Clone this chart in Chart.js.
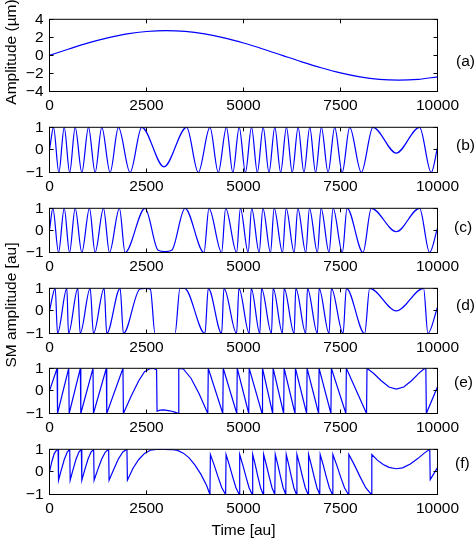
<!DOCTYPE html>
<html>
<head>
<meta charset="utf-8">
<script src="https://cdn.jsdelivr.net/npm/chart.js@4.4.1/dist/chart.umd.min.js"></script>
<style>
  body { margin: 0; background: #fff; }
  #wrap { position: relative; width: 476px; height: 540px; background: #fff; overflow: hidden;
          font-family: "Liberation Sans", Arial, sans-serif; font-size: 15.5px; color: #000; }
  #wrap canvas { position: absolute; left: 0; }
  .lbl { position: absolute; white-space: nowrap; transform: translate(0, -50%); }
  .vert { position: absolute; white-space: nowrap; transform: translate(-50%, -50%) rotate(-90deg); }
  .hor { position: absolute; white-space: nowrap; transform: translate(-50%, -50%); }
</style>
</head>
<body>
<div id="wrap">
  <canvas id="pa"></canvas>
  <canvas id="pb"></canvas>
  <canvas id="pc"></canvas>
  <canvas id="pd"></canvas>
  <canvas id="pe"></canvas>
  <canvas id="pf"></canvas>
  <div class="vert" style="left:11px; top:52px;">Amplitude (µm)</div>
  <div class="vert" style="left:11px; top:305px;">SM amplitude [au]</div>
  <div class="hor" style="left:243.5px; top:530px;">Time [au]</div>
  <div class="lbl" style="left:456px; top:61px;">(a)</div>
  <div class="lbl" style="left:456px; top:145px;">(b)</div>
  <div class="lbl" style="left:454px; top:227px;">(c)</div>
  <div class="lbl" style="left:456px; top:305px;">(d)</div>
  <div class="lbl" style="left:454px; top:382px;">(e)</div>
  <div class="lbl" style="left:455px; top:463px;">(f)</div>
</div>
<script>
// data (time in samples, amplitude)

const xTicks = [0, 2500, 5000, 7500, 10000];
const ampTicks = [-4, -2, 0, 2, 4];
const smTicks = [-1, 0, 1];

// (a) displacement
const aT = [0, 500, 1000, 1500, 2000, 2500, 3000, 3500, 4000, 4500, 5000, 5500, 6000, 6500, 7000, 7500, 8000, 8500, 9000, 9500, 10000];
const aY = [0, 0.71, 1.38, 1.94, 2.38, 2.65, 2.75, 2.66, 2.38, 1.94, 1.37, 0.71, 0.0, -0.71, -1.37, -1.94, -2.38, -2.66, -2.75, -2.66, -2.37];

// (b)
const bT = [0, 104, 241, 379, 520, 662, 833, 1005, 1176, 1348, 1562, 1777, 2077, 2377, 2950, 3535, 3835, 4135, 4350, 4560,
            4725, 4890, 5050, 5207, 5357, 5507, 5657, 5807, 5957, 6107, 6257, 6408, 6558, 6708, 6858, 7008, 7180, 7351, 7544, 7737,
            8037, 8337, 8937, 9538, 9838, 10000];
const bY = [0, 1, -1, 1, -1, 1, -1, 1, -1, 1, -1, 1, -1, 1,
            -0.75,
            1, -1, 1, -1, 1, -1, 1, -1, 1, -1, 1, -1, 1, -1, 1, -1, 1, -1, 1, -1, 1, -1, 1, -1, 1, -1, 1,
            -0.14, 1, -1, 0.1];

// (c)
const cT = [0, 87, 233, 379, 516, 662, 833, 1030, 1176, 1391, 1545, 1802, 1948, 2463, 2800, 2978, 3150, 3492, 3981, 4110,
            4436, 4540, 4822, 4920, 5120, 5210, 5404, 5500, 5696, 5790, 6005, 6100, 6305, 6400, 6605, 6700, 6905, 7000, 7205, 7310,
            7548, 7670, 8080, 8295, 8938, 9538, 9796, 10000];
const cY = [0, 1, -1, 1, -1, 1, -1, 1, -1, 1, -1, 1, -1, 1,
            -0.9, -0.96, -0.9,
            1, -1, 1, -1, 1, -1, 1, -1, 1, -1, 1, -1, 1, -1, 1, -1, 1, -1, 1, -1, 1, -1, 1, -1, 1, -1, 1,
            -0.06, 1, -1, 0.1];

// (d)
const dT = [0, 147, 207, 447, 490, 730, 790, 1048, 1133, 1408, 1476, 1820, 1905, 2330, 2480, 2600, 2720, 3235, 3363, 3480,
            4007, 4092, 4436, 4496, 4822, 4882, 5147, 5199, 5421, 5464, 5721, 5764, 6005, 6047, 6305, 6348, 6605, 6648, 6905, 6948,
            7205, 7265, 7566, 7651, 8123, 8252, 8938, 9641, 9753, 10000];
const dY = [0, 1, -1, 1, -1, 1, -1, 1, -1, 1, -1, 1, -1,
            0.97, 1, 0.96, -1, -1, 1, 1,
            -1, 1, -1, 1, -1, 1, -1, 1, -1, 1, -1, 1, -1, 1, -1, 1, -1, 1, -1, 1, -1, 1, -1, 1, -1, 1,
            0, 1, -1, 0.16];

// (e)
const eT = [0, 195, 207, 495, 507, 795, 807, 1121, 1133, 1464, 1476, 1893, 1905,
            2100, 2300, 2450, 2580, 2680, 2760, 2772, 2850, 2950, 3100, 3250, 3320, 3332, 3450, 3650, 3850, 4080,
            4092, 4466, 4478, 4827, 4839, 5135, 5147, 5478, 5490, 5752, 5764, 6035, 6047, 6327, 6339, 6627, 6639, 6936, 6948, 7253,
            7265, 7639, 7651, 8171,
            8183, 8350, 8550, 8750, 8938, 9130, 9330, 9530, 9650, 9700, 9712, 10000];
const eY = [0, 1, -1, 1, -1, 1, -1, 1, -1, 1, -1, 1, -1,
            -0.25, 0.45, 0.85, 0.98, 1, 0.93, -0.9, -0.85, -0.84, -0.88, -0.95, -1, 1, 0.97, 0.55, -0.1, -1,
            1, -1, 1, -1, 1, -1, 1, -1, 1, -1, 1, -1, 1, -1, 1, -1, 1, -1, 1, -1,
            1, -1, 1, -1,
            1, 0.78, 0.45, 0.17, 0.08, 0.17, 0.45, 0.8, 0.97, 1, -1, 0.18];

// (f)
const fT = [0, 60, 120, 180, 221, 233,
            308, 383, 458, 521, 533,
            608, 683, 758, 821, 833,
            912, 991, 1070, 1138, 1150,
            1246, 1343, 1439, 1524, 1536,
            1654, 1772, 1890, 1996, 2008,
            2150, 2300, 2450, 2600, 2750, 2950, 3150, 3300, 3450, 3600, 3750, 3900, 4050, 4135,
            4147, 4245, 4343, 4441, 4539,
            4551, 4636, 4721, 4805, 4890,
            4902, 4983, 5064, 5144, 5225,
            5237, 5305, 5372, 5440, 5507,
            5519, 5591, 5663, 5735, 5807,
            5819, 5887, 5955, 6022, 6090,
            6102, 6168, 6234, 6299, 6365,
            6377, 6449, 6521, 6593, 6665,
            6677, 6749, 6821, 6893, 6965,
            6977, 7056, 7134, 7213, 7291,
            7303, 7403, 7503, 7603, 7703,
            7715, 7860, 8005, 8150, 8295,
            8307, 8450, 8600, 8750, 8938, 9100, 9300, 9500, 9650, 9800, 9812, 10000];
const fY = [0, 0.45, 0.8, 0.96, 1, -0.37,
            0.11, 0.56, 0.88, 1, -0.37,
            0.11, 0.56, 0.88, 1, -0.37,
            0.11, 0.56, 0.88, 1, -0.37,
            0.11, 0.56, 0.88, 1, -0.37,
            0.11, 0.56, 0.88, 1, -0.37,
            0.15, 0.55, 0.82, 0.96, 1, 1, 0.99, 0.95, 0.83, 0.62, 0.3, -0.1, -0.6, -1,
            0.77, 0.3, -0.22, -0.7, -1,
            0.77, 0.3, -0.22, -0.7, -1,
            0.77, 0.3, -0.22, -0.7, -1,
            0.77, 0.3, -0.22, -0.7, -1,
            0.77, 0.3, -0.22, -0.7, -1,
            0.77, 0.3, -0.22, -0.7, -1,
            0.77, 0.3, -0.22, -0.7, -1,
            0.77, 0.3, -0.22, -0.7, -1,
            0.77, 0.3, -0.22, -0.7, -1,
            0.77, 0.3, -0.22, -0.7, -1,
            0.77, 0.3, -0.22, -0.7, -1,
            0.77, 0.3, -0.22, -0.7, -1,
            0.77, 0.52, 0.33, 0.2, 0.14, 0.18, 0.35, 0.6, 0.82, 1, -0.34, 0.19];

// layout (plot box top/bottom in page pixels)
const PLOT_LEFT = 49.5, PLOT_RIGHT = 437.5, PAD_TOP = 10.5, X_AXIS_H = 24;

Chart.defaults.font.family = '"Liberation Sans", Arial, sans-serif';
Chart.defaults.font.size = 15.5;
Chart.defaults.color = '#000';

const pts = (xs, ys) => xs.map((x, i) => ({ x: x, y: ys[i] }));
const minus = v => String(v).replace('-', '\u2212');

// box + inward ticks like matlab
const frame = {
    id: 'frame',
    afterDatasetsDraw(chart) {
        const { ctx, chartArea: a, scales } = chart;
        const x = scales.x, y = scales.y;
        ctx.save();
        ctx.strokeStyle = '#000';
        ctx.lineWidth = 1;
        ctx.beginPath();
        x.ticks.forEach(t => {
            const px = Math.floor(x.getPixelForValue(t.value)) + 0.5;
            ctx.moveTo(px, a.bottom); ctx.lineTo(px, a.bottom - 4);
            ctx.moveTo(px, a.top); ctx.lineTo(px, a.top + 4);
        });
        y.ticks.forEach(t => {
            const py = Math.floor(y.getPixelForValue(t.value)) + 0.5;
            ctx.moveTo(a.left, py); ctx.lineTo(a.left + 4, py);
            ctx.moveTo(a.right, py); ctx.lineTo(a.right - 4, py);
        });
        ctx.stroke();
        ctx.strokeRect(a.left, a.top, a.right - a.left, a.bottom - a.top);
        ctx.restore();
    }
};

function panel(id, top, bottom, xs, ys, yTicks, smooth) {
    const cv = document.getElementById(id);
    const h = bottom - top;
    const H = PAD_TOP + h + X_AXIS_H + 0.5;
    cv.width = 476; cv.height = H;
    cv.style.width = '476px'; cv.style.height = H + 'px';
    cv.style.top = (top - PAD_TOP) + 'px';

    new Chart(cv, {
        type: 'line',
        data: {
            datasets: [{
                data: pts(xs, ys),
                borderColor: '#0000ff',
                borderWidth: 1.2,
                pointRadius: 0,
                fill: false,
                tension: smooth ? 0.4 : 0,
                cubicInterpolationMode: smooth ? 'monotone' : 'default'
            }]
        },
        options: {
            responsive: false,
            animation: false,
            events: [],
            layout: { padding: { left: 0, right: 476 - PLOT_RIGHT, top: PAD_TOP, bottom: 0.5 } },
            scales: {
                x: {
                    type: 'linear',
                    min: xTicks[0],
                    max: xTicks[xTicks.length - 1],
                    afterBuildTicks: s => { s.ticks = xTicks.map(v => ({ value: v })); },
                    afterFit: s => { s.height = X_AXIS_H; },
                    grid: { display: false, drawTicks: false },
                    border: { display: false },
                    ticks: { padding: 5, maxRotation: 0, autoSkip: false, callback: v => String(v) }
                },
                y: {
                    min: yTicks[0],
                    max: yTicks[yTicks.length - 1],
                    afterBuildTicks: s => { s.ticks = yTicks.map(v => ({ value: v })); },
                    afterFit: s => { s.width = PLOT_LEFT; },
                    grid: { display: false, drawTicks: false },
                    border: { display: false },
                    ticks: { padding: 6, autoSkip: false, callback: minus }
                }
            },
            plugins: { legend: { display: false }, tooltip: { enabled: false } }
        },
        plugins: [frame]
    });
}

panel('pa', 14.5, 91.5, aT, aY, ampTicks, true);
panel('pb', 122.5, 172.5, bT, bY, smTicks, true);
panel('pc', 203.5, 252.5, cT, cY, smTicks, true);
panel('pd', 283.5, 333.5, dT, dY, smTicks, true);
panel('pe', 363.5, 413.5, eT, eY, smTicks, false);
panel('pf', 444.5, 494.5, fT, fY, smTicks, false);
</script>
</body>
</html>
